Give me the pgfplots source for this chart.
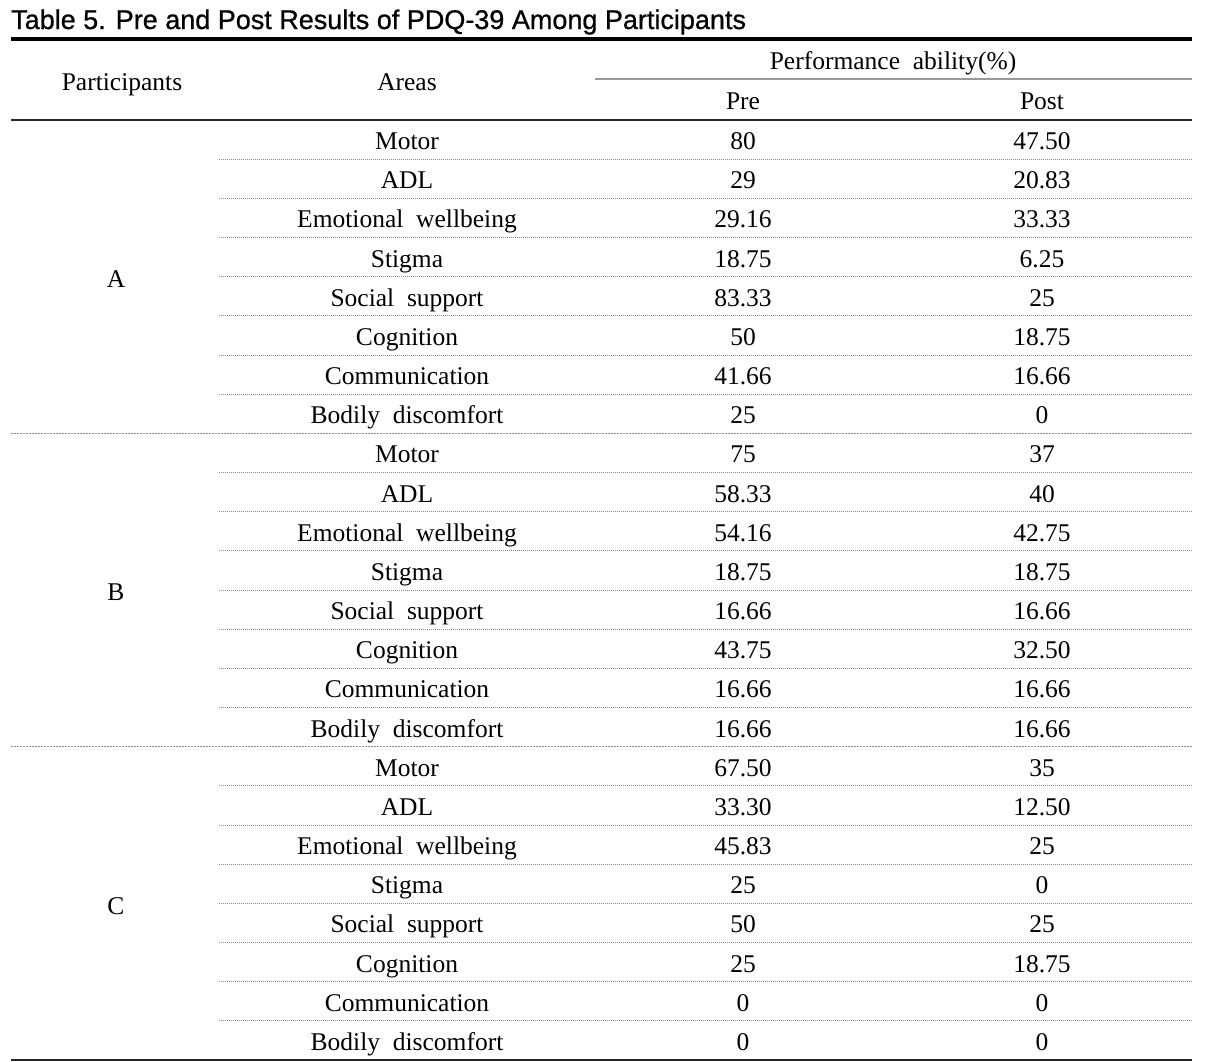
\documentclass[border=0pt]{standalone}
\usepackage{pgfplots}
\pgfplotsset{compat=1.18}
\usepackage{pgfplotstable}
\usepackage{fontspec}
\setmainfont{Liberation Serif}
\newfontfamily\titlefont{Liberation Sans}[FakeBold=0.8]

\pgfplotstableread[col sep=comma]{
row,area,pre,post
0,Motor,80,47.50
1,ADL,29,20.83
2,Emotional wellbeing,29.16,33.33
3,Stigma,18.75,6.25
4,Social support,83.33,25
5,Cognition,50,18.75
6,Communication,41.66,16.66
7,Bodily discomfort,25,0
8,Motor,75,37
9,ADL,58.33,40
10,Emotional wellbeing,54.16,42.75
11,Stigma,18.75,18.75
12,Social support,16.66,16.66
13,Cognition,43.75,32.50
14,Communication,16.66,16.66
15,Bodily discomfort,16.66,16.66
16,Motor,67.50,35
17,ADL,33.30,12.50
18,Emotional wellbeing,45.83,25
19,Stigma,25,0
20,Social support,50,25
21,Cognition,25,18.75
22,Communication,0,0
23,Bodily discomfort,0,0
}\data

\pgfplotstableread[col sep=comma]{
x,y,label
116,4.07,A
116,12.07,B
116,20.07,C
}\parts

\pgfplotstableread[col sep=comma]{
x,y,label
122,-0.97,Participants
407,-0.97,Areas
893,-1.506,Performance ability(\%)
743,-0.485,Pre
1042,-0.485,Post
}\header

\pgfplotstableread[col sep=comma]{
x,y,label
11,-2.323,Table 5. Pre and Post Results of PDQ-39 Among Participants
}\titletab

\newcommand\bodyfont{\fontsize{25.5}{30}\selectfont\spaceskip=0.5em\relax}

\begin{document}
\begin{tikzpicture}
\begin{axis}[
  scale only axis,
  width=1212pt, height=1061pt,
  xmin=0, xmax=1212,
  ymin=-3.0636, ymax=24.023,
  y dir=reverse,
  hide axis,
  clip=false,
  txt/.style={draw=none, mark=none, nodes near coords,
    point meta=explicit symbolic,
    nodes near coords style={anchor=base, yshift=-8pt, inner sep=0pt, font=\bodyfont, text=black}},
]
% bounding path
\addplot[draw=none, mark=none] coordinates {(0,-3.0636) (1212,24.023)};

% rules
\addplot[black, line width=3.5pt, mark=none] coordinates {(11,-2.068) (1192,-2.068)};
\addplot[gray!80, line width=1.5pt, mark=none] coordinates {(595,-1.047) (1192,-1.047)};
\addplot[black!85, line width=1.3pt, mark=none] coordinates {(11,0) (1192,0)};
\addplot[black!85, line width=1.6pt, mark=none] coordinates {(11,23.99) (1192,23.99)};

% inner dotted lines
\foreach \r in {1,...,7,9,10,...,15,17,18,...,23}{
  \addplot[gray!90, line width=0.9pt, dash pattern=on 1pt off 1pt, mark=none] coordinates {(219,\r) (1192,\r)};
}
% group separators
\foreach \r in {8,16}{
  \addplot[gray!90, line width=0.9pt, dash pattern=on 2pt off 1pt, mark=none] coordinates {(11,\r) (1192,\r)};
}

% text
\addplot[txt] table[x expr=407, y expr=\thisrow{row}+0.55, meta=area] {\data};
\addplot[txt] table[x expr=743, y expr=\thisrow{row}+0.55, meta=pre] {\data};
\addplot[txt] table[x expr=1042, y expr=\thisrow{row}+0.55, meta=post] {\data};
\addplot[txt] table[x=x, y=y, meta=label] {\parts};
\addplot[txt] table[x=x, y=y, meta=label] {\header};
\addplot[draw=none, mark=none, nodes near coords, point meta=explicit symbolic,
  nodes near coords style={anchor=base west, inner sep=0pt, font=\titlefont\fontsize{27}{32}\selectfont, text=black}]
  table[x=x, y=y, meta=label] {\titletab};
\end{axis}
\end{tikzpicture}
\end{document}
